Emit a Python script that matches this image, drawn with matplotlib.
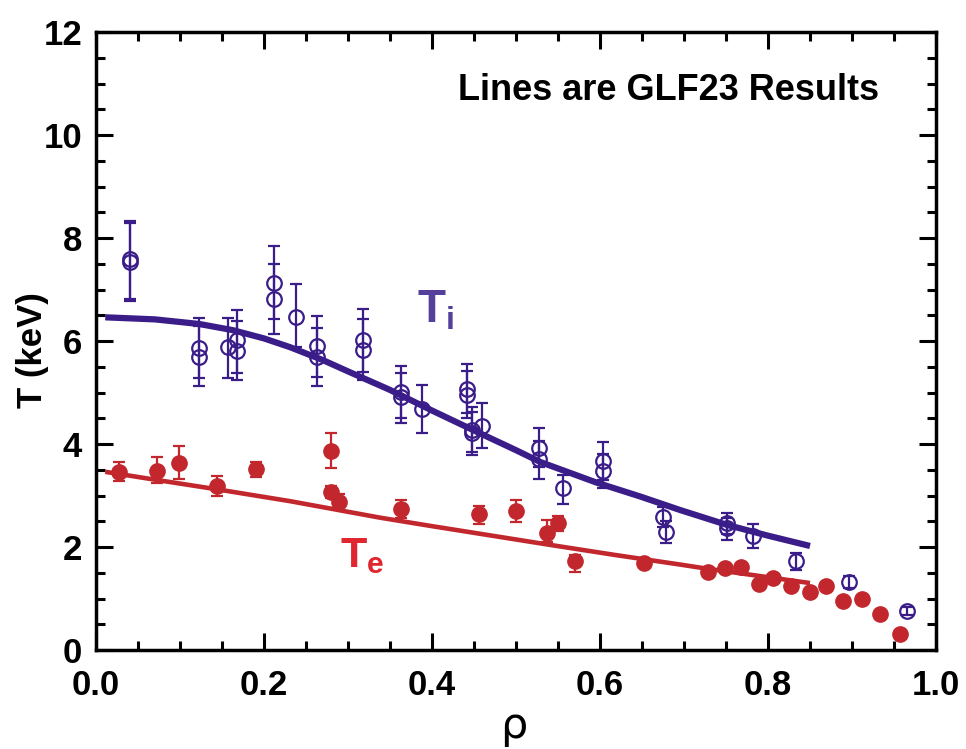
import matplotlib
matplotlib.use("Agg")
import matplotlib.pyplot as plt
import numpy as np
from matplotlib.ticker import MultipleLocator

# ---- data ----
ti_x = [0.040, 0.040, 0.123, 0.123, 0.157, 0.168, 0.168, 0.212, 0.212, 0.238,
        0.263, 0.263, 0.318, 0.318, 0.363, 0.363, 0.388, 0.442, 0.442, 0.448,
        0.448, 0.460, 0.527, 0.527, 0.556, 0.603, 0.603, 0.675, 0.679, 0.751,
        0.751, 0.782, 0.833, 0.896, 0.965]
ti_y = [7.59, 7.53, 5.86, 5.69, 5.88, 6.02, 5.81, 7.13, 6.82, 6.47,
        5.90, 5.69, 6.02, 5.83, 5.01, 4.91, 4.68, 5.07, 4.95, 4.27,
        4.21, 4.35, 3.92, 3.71, 3.15, 3.67, 3.48, 2.58, 2.29, 2.46,
        2.37, 2.21, 1.73, 1.32, 0.76]
ti_hi = [8.33, 8.29, 6.45, 6.29, 6.45, 6.60, 6.39, 7.84, 7.50, 7.10,
         6.49, 6.25, 6.62, 6.43, 5.51, 5.38, 5.15, 5.55, 5.42, 4.72,
         4.62, 4.80, 4.31, 4.05, 3.40, 4.04, 3.80, 2.78, 2.50, 2.66,
         2.57, 2.45, 1.88, 1.44, 0.84]
ti_lo = [6.82, 6.77, 5.28, 5.13, 5.28, 5.38, 5.24, 6.43, 6.13, 5.88,
         5.30, 5.13, 5.40, 5.25, 4.50, 4.41, 4.21, 4.60, 4.50, 3.79,
         3.85, 3.92, 3.55, 3.32, 2.84, 3.30, 3.15, 2.38, 2.08, 2.25,
         2.14, 1.98, 1.55, 1.20, 0.68]

te_x = [0.027, 0.073, 0.099, 0.144, 0.190, 0.280, 0.280, 0.289, 0.363, 0.456,
        0.500, 0.537, 0.550, 0.570]
te_y = [3.46, 3.48, 3.63, 3.18, 3.51, 3.86, 3.07, 2.87, 2.74, 2.64,
        2.70, 2.27, 2.47, 1.73]
te_hi = [3.65, 3.75, 3.96, 3.38, 3.65, 4.21, 3.18, 3.03, 2.91, 2.80,
         2.91, 2.52, 2.60, 1.85]
te_lo = [3.28, 3.24, 3.32, 2.99, 3.36, 3.53, 2.95, 2.75, 2.56, 2.45,
         2.49, 2.10, 2.31, 1.51]

te2_x = [0.652, 0.729, 0.749, 0.768, 0.789, 0.806, 0.827, 0.850, 0.869, 0.889,
         0.912, 0.933, 0.957]
te2_y = [1.69, 1.52, 1.59, 1.61, 1.28, 1.39, 1.24, 1.13, 1.24, 0.95,
         0.99, 0.70, 0.31]

ti_line_x = [0.011, 0.07, 0.123, 0.163, 0.20, 0.231, 0.27, 0.30, 0.35,
             0.40, 0.449, 0.50, 0.529, 0.596, 0.648, 0.695, 0.751, 0.80, 0.85]
ti_line_y = [6.46, 6.42, 6.33, 6.21, 6.05, 5.88, 5.63, 5.41, 5.05,
             4.65, 4.27, 3.88, 3.65, 3.25, 2.98, 2.72, 2.43, 2.22, 2.02]

te_line_x = [0.011, 0.073, 0.144, 0.231, 0.338, 0.398, 0.537, 0.616,
             0.695, 0.727, 0.85]
te_line_y = [3.46, 3.30, 3.12, 2.89, 2.57, 2.41, 2.05, 1.85,
             1.66, 1.58, 1.30]

xticks = [0.0, 0.2, 0.4, 0.6, 0.8, 1.0]
xtick_labels = ["0.0", "0.2", "0.4", "0.6", "0.8", "1.0"]
yticks = [0, 2, 4, 6, 8, 10, 12]

PURPLE = "#3b1d8a"
PURPLE_L = "#54409c"
RED = "#c1272d"
RED_L = "#e0262e"

FONT = ["Liberation Sans Narrow", "Liberation Sans", "DejaVu Sans"]
plt.rcParams["font.family"] = FONT

fig = plt.figure(figsize=(9.66, 7.49), dpi=100)
ax = fig.add_axes([96/966, 99/749, 840/966, 618/749])

ax.plot(ti_line_x, ti_line_y, color=PURPLE, lw=4.5, solid_capstyle="butt", zorder=3)
ax.plot(te_line_x, te_line_y, color=RED, lw=3.3, solid_capstyle="butt", zorder=3)

ti_y_a = np.array(ti_y)
ti_err = [ti_y_a - np.array(ti_lo), np.array(ti_hi) - ti_y_a]
ax.errorbar(ti_x, ti_y, yerr=ti_err, fmt="o", ms=10.5, mfc="none", mec=PURPLE,
            mew=1.6, ecolor=PURPLE, elinewidth=1.6, capsize=4.5, capthick=1.6, zorder=4)

te_y_a = np.array(te_y)
te_err = [te_y_a - np.array(te_lo), np.array(te_hi) - te_y_a]
ax.errorbar(te_x, te_y, yerr=te_err, fmt="o", ms=11, mfc=RED, mec=RED,
            ecolor=RED, elinewidth=1.6, capsize=4.5, capthick=1.6, zorder=4)
ax.plot(te2_x, te2_y, "o", ms=11, color=RED, zorder=4)

ax.set_xlim(0, 1.0)
ax.set_ylim(0, 12)
ax.set_xticks(xticks)
ax.set_xticklabels(xtick_labels)
ax.set_yticks(yticks)
ax.xaxis.set_minor_locator(MultipleLocator(0.05))
ax.yaxis.set_minor_locator(MultipleLocator(0.5))
ax.tick_params(which="both", direction="in", top=True, right=True, width=2.2, color="black")
ax.tick_params(which="major", length=12, labelsize=25)
ax.tick_params(which="minor", length=6.5)
ax.tick_params(axis="x", which="major", pad=14)
ax.tick_params(axis="y", which="major", pad=10)
for lab in ax.get_xticklabels() + ax.get_yticklabels():
    lab.set_fontweight("bold")
for sp in ax.spines.values():
    sp.set_linewidth(2.5)

ax.set_ylabel("T (keV)", fontsize=25, fontweight="bold")
ax.yaxis.set_label_coords(-0.056, 0.485)
xl = ax.set_xlabel("ρ", fontsize=31, family=["DejaVu Sans"])
xl.set_verticalalignment("baseline")
ax.xaxis.set_label_coords(0.4976, -0.1424)

ax.text(0.932, 0.905, "Lines are GLF23 Results", transform=ax.transAxes,
        fontsize=26, fontweight="bold", ha="right", va="center")
ax.text(0.382, 6.6, r"T$_\mathregular{i}$", fontsize=33, fontweight="bold",
        color=PURPLE_L, ha="left", va="center")
ax.text(0.290, 1.82, r"T$_\mathregular{e}$", fontsize=31, fontweight="bold",
        color=RED_L, ha="left", va="center")

fig.savefig("out.png", dpi=100)
